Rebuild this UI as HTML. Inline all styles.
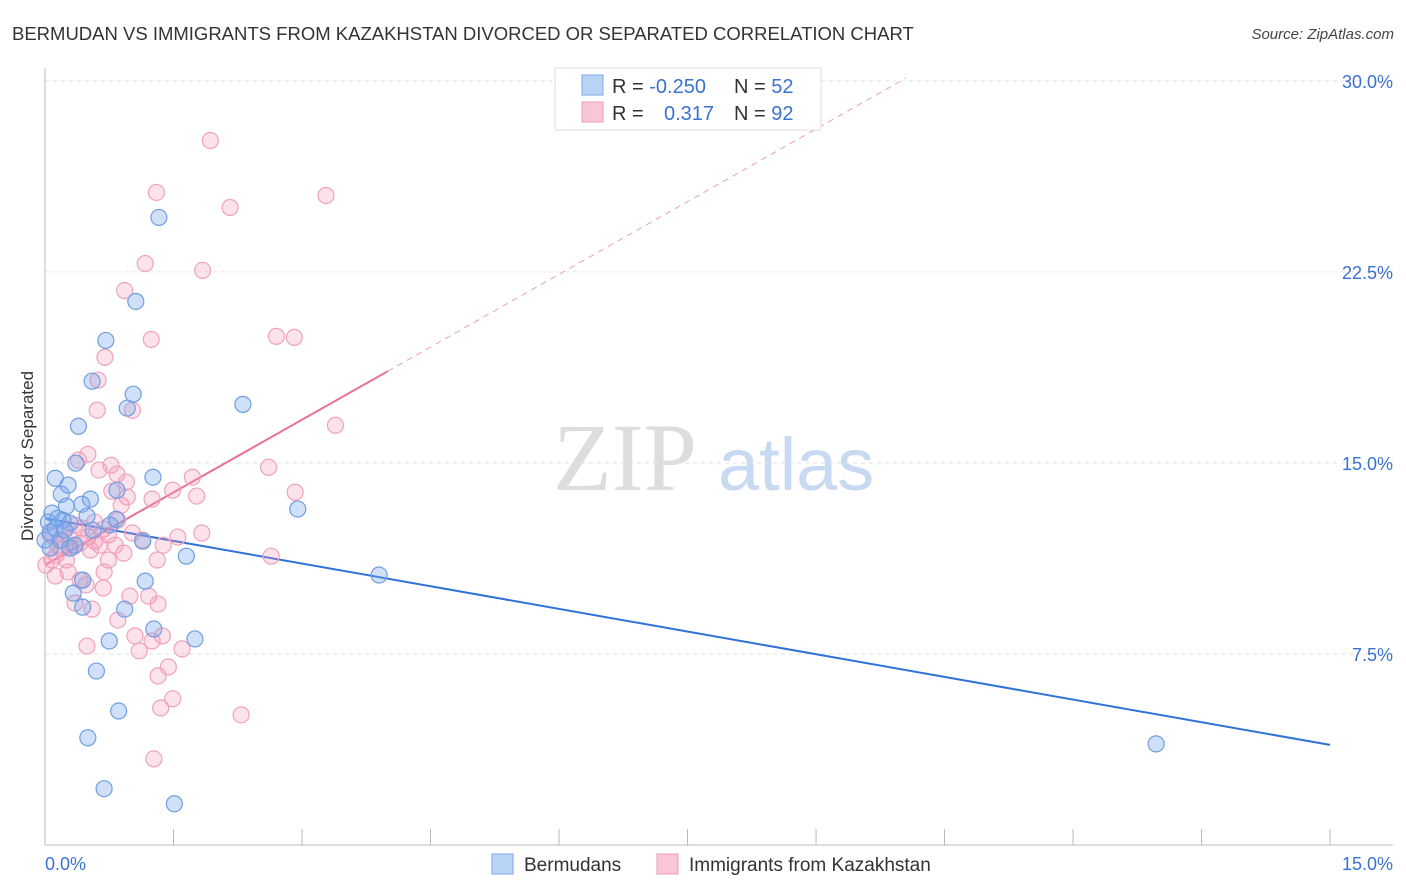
<!DOCTYPE html>
<html><head><meta charset="utf-8"><style>
body{margin:0;background:#fff;font-family:"Liberation Sans",sans-serif;}
svg{display:block}
</style></head><body>
<svg id="chart" width="1406" height="892" xmlns="http://www.w3.org/2000/svg">
<text x="12" y="40" font-size="18.5" fill="#333">BERMUDAN VS IMMIGRANTS FROM KAZAKHSTAN DIVORCED OR SEPARATED CORRELATION CHART</text>
<text x="1394" y="39" font-size="15" font-style="italic" fill="#444" text-anchor="end">Source: ZipAtlas.com</text>
<text transform="translate(33,456) rotate(-90)" font-size="17" fill="#333" text-anchor="middle">Divorced or Separated</text>
<g>
<text x="553" y="490" font-family="'Liberation Serif',serif" font-size="96" fill="#ddd">ZIP</text>
<text x="718" y="490" font-size="74" fill="#c8daf2">atlas</text>
</g>
<g id="grid"></g><g id="axes"></g><g id="lines"></g><g id="pts"></g>
<g>
<rect x="555" y="68" width="266" height="62" fill="#fff" stroke="#ddd"/>
<rect x="582" y="75" width="21" height="20" fill="#b9d3f5" stroke="#7aa8e6"/>
<rect x="582" y="102" width="21" height="20" fill="#f9c6d6" stroke="#ee9ab4"/>
<text x="612" y="93" font-size="20" fill="#333">R = <tspan fill="#3a72d0">-0.250</tspan></text>
<text x="734" y="93" font-size="20" fill="#333">N = <tspan fill="#3a72d0">52</tspan></text>
<text x="612" y="120" font-size="20" fill="#333">R = </text>
<text x="664" y="120" font-size="20" fill="#3a72d0">0.317</text>
<text x="734" y="120" font-size="20" fill="#333">N = <tspan fill="#3a72d0">92</tspan></text>
</g>
<g>
<rect x="492" y="854" width="21" height="20" fill="#b9d3f5" stroke="#7aa8e6"/>
<text x="524" y="871" font-size="19" fill="#333">Bermudans</text>
<rect x="657" y="854" width="21" height="20" fill="#f9c6d6" stroke="#ee9ab4"/>
<text x="689" y="871" font-size="19" fill="#333">Immigrants from Kazakhstan</text>
</g>
</svg>
<script>
const blueX=[1.33,1.06,0.71,0.55,1.03,0.96,2.31,0.39,0.36,0.12,1.26,0.27,0.84,0.19,0.53,0.43,0.25,2.95,0.08,0.49,0.83,0.21,0.04,0.29,0.12,0.56,0.06,0.18,1.14,0.29,1.65,0.06,3.90,0.44,1.17,0.33,0.44,0.93,1.27,1.75,0.75,0.60,0.86,0.50,0.69,1.51,12.97,0.15,0.23,0.35,0.0,0.76];
const blueY=[24.64,21.34,19.81,18.21,17.70,17.15,17.30,16.44,14.99,14.40,14.44,14.13,13.93,13.77,13.58,13.38,13.30,13.19,13.03,12.91,12.79,12.75,12.68,12.64,12.44,12.36,12.28,11.97,11.93,11.66,11.34,11.66,10.60,10.40,10.36,9.89,9.34,9.26,8.48,8.09,8.01,6.83,5.26,4.21,2.21,1.62,3.97,12.83,12.36,11.77,11.97,12.56];
const pinkX=[1.93,1.30,3.28,2.16,1.17,1.84,0.93,1.24,2.70,2.91,0.70,0.62,1.02,0.61,3.39,0.50,0.39,0.77,0.63,2.61,0.84,1.72,0.95,1.49,0.78,0.96,1.25,2.92,1.77,0.89,0.85,0.68,1.02,1.55,1.83,0.50,0.58,0.41,1.38,1.14,0.33,0.19,0.92,1.31,0.74,2.64,0.08,0.01,0.27,0.69,0.41,0.48,0.12,0.68,0.99,1.21,1.32,0.35,0.55,0.85,1.05,1.25,1.37,1.10,1.60,1.44,1.32,1.49,1.35,2.29,1.27,0.49,0.22,0.15,0.06,0.29,0.43,0.58,0.74,0.25,0.13,0.35,0.64,0.82,0.53,0.20];
const pinkY=[27.66,25.62,25.50,25.03,22.83,22.56,21.77,19.85,19.97,19.93,19.15,18.25,17.07,17.07,16.48,15.34,15.11,14.91,14.72,14.83,14.56,14.44,14.25,13.93,13.89,13.66,13.58,13.85,13.70,13.34,12.75,12.40,12.25,12.09,12.25,12.09,11.93,11.85,11.77,11.97,11.70,11.62,11.46,11.19,11.19,11.34,11.19,10.99,10.72,10.72,10.40,10.21,10.56,10.09,9.77,9.77,9.46,9.50,9.26,8.83,8.21,8.01,8.21,7.62,7.70,6.99,6.64,5.74,5.38,5.11,3.38,7.81,12.36,11.77,12.17,12.05,12.44,12.68,12.17,11.19,11.38,12.56,11.77,11.77,11.58,11.97];
const blueTrend=[12.83,3.93];
const pinkTrend=[10.99,0.317];
const yTicks=[7.5,15,22.5,30];
const yTickLabels=["7.5%","15.0%","22.5%","30.0%"];
const xTicks=[0,1.5,3,4.5,6,7.5,9,10.5,12,13.5,15];
const NS="http://www.w3.org/2000/svg";
const X=v=>45+v*85.67, Y=v=>845-v*25.47;
function mk(t,a,p){const e=document.createElementNS(NS,t);for(const k in a)e.setAttribute(k,a[k]);p.appendChild(e);return e;}
const grid=document.getElementById('grid'),axes=document.getElementById('axes'),lines=document.getElementById('lines'),pts=document.getElementById('pts');
yTicks.forEach((t,i)=>{
 const l=mk('line',{x1:45,x2:1393,y1:Y(t),y2:Y(t),stroke:'#e2e2e2','stroke-dasharray':'4,4'},grid);
 
 
 const tx=mk('text',{x:1393,y:Y(t)+7,'font-size':18,fill:'#3a72d0','text-anchor':'end'},axes);
 tx.textContent=yTickLabels[i];
 
 
});
const ya=mk('line',{x1:45,x2:45,y1:68,y2:845,stroke:'#bbb'},axes);


const xa=mk('line',{x1:45,x2:1393,y1:845,y2:845,stroke:'#bbb'},axes);


xTicks.forEach(t=>{
 const l=mk('line',{x1:X(t),x2:X(t),y1:829,y2:845,stroke:'#bbb'},axes);
 
 
});
const xl0=mk('text',{x:45,y:870,'font-size':18,fill:'#3a72d0'},axes);xl0.textContent='0.0%';


const xl1=mk('text',{x:1393,y:870,'font-size':18,fill:'#3a72d0','text-anchor':'end'},axes);xl1.textContent='15.0%';


pinkX.forEach((x,i)=>{
 const c=mk('circle',{cx:X(x),cy:Y(pinkY[i]),r:8,fill:'rgba(244,150,180,0.28)',stroke:'#f0a2bb','stroke-width':1.2},pts);
 
 
});
blueX.forEach((x,i)=>{
 const c=mk('circle',{cx:X(x),cy:Y(blueY[i]),r:8,fill:'rgba(120,165,235,0.35)',stroke:'#6f9fe2','stroke-width':1.2},pts);
 
 
});
const bl=mk('line',{x1:X(0),y1:Y(blueTrend[0]),x2:X(15),y2:Y(blueTrend[1]),stroke:'#2f72d8','stroke-width':2},lines);


const pf=v=>pinkTrend[0]+(18.6-10.99)/4.0*v;
const pd=mk('line',{x1:X(4.0),y1:Y(pf(4.0)),x2:X(10.05),y2:Y(pf(10.05)),stroke:'#eaa0b8','stroke-width':1,'stroke-dasharray':'6,5'},lines);


const pl=mk('line',{x1:X(0),y1:Y(pf(0)),x2:X(4.0),y2:Y(pf(4.0)),stroke:'#e8709a','stroke-width':2},lines);


</script>
</body></html>
